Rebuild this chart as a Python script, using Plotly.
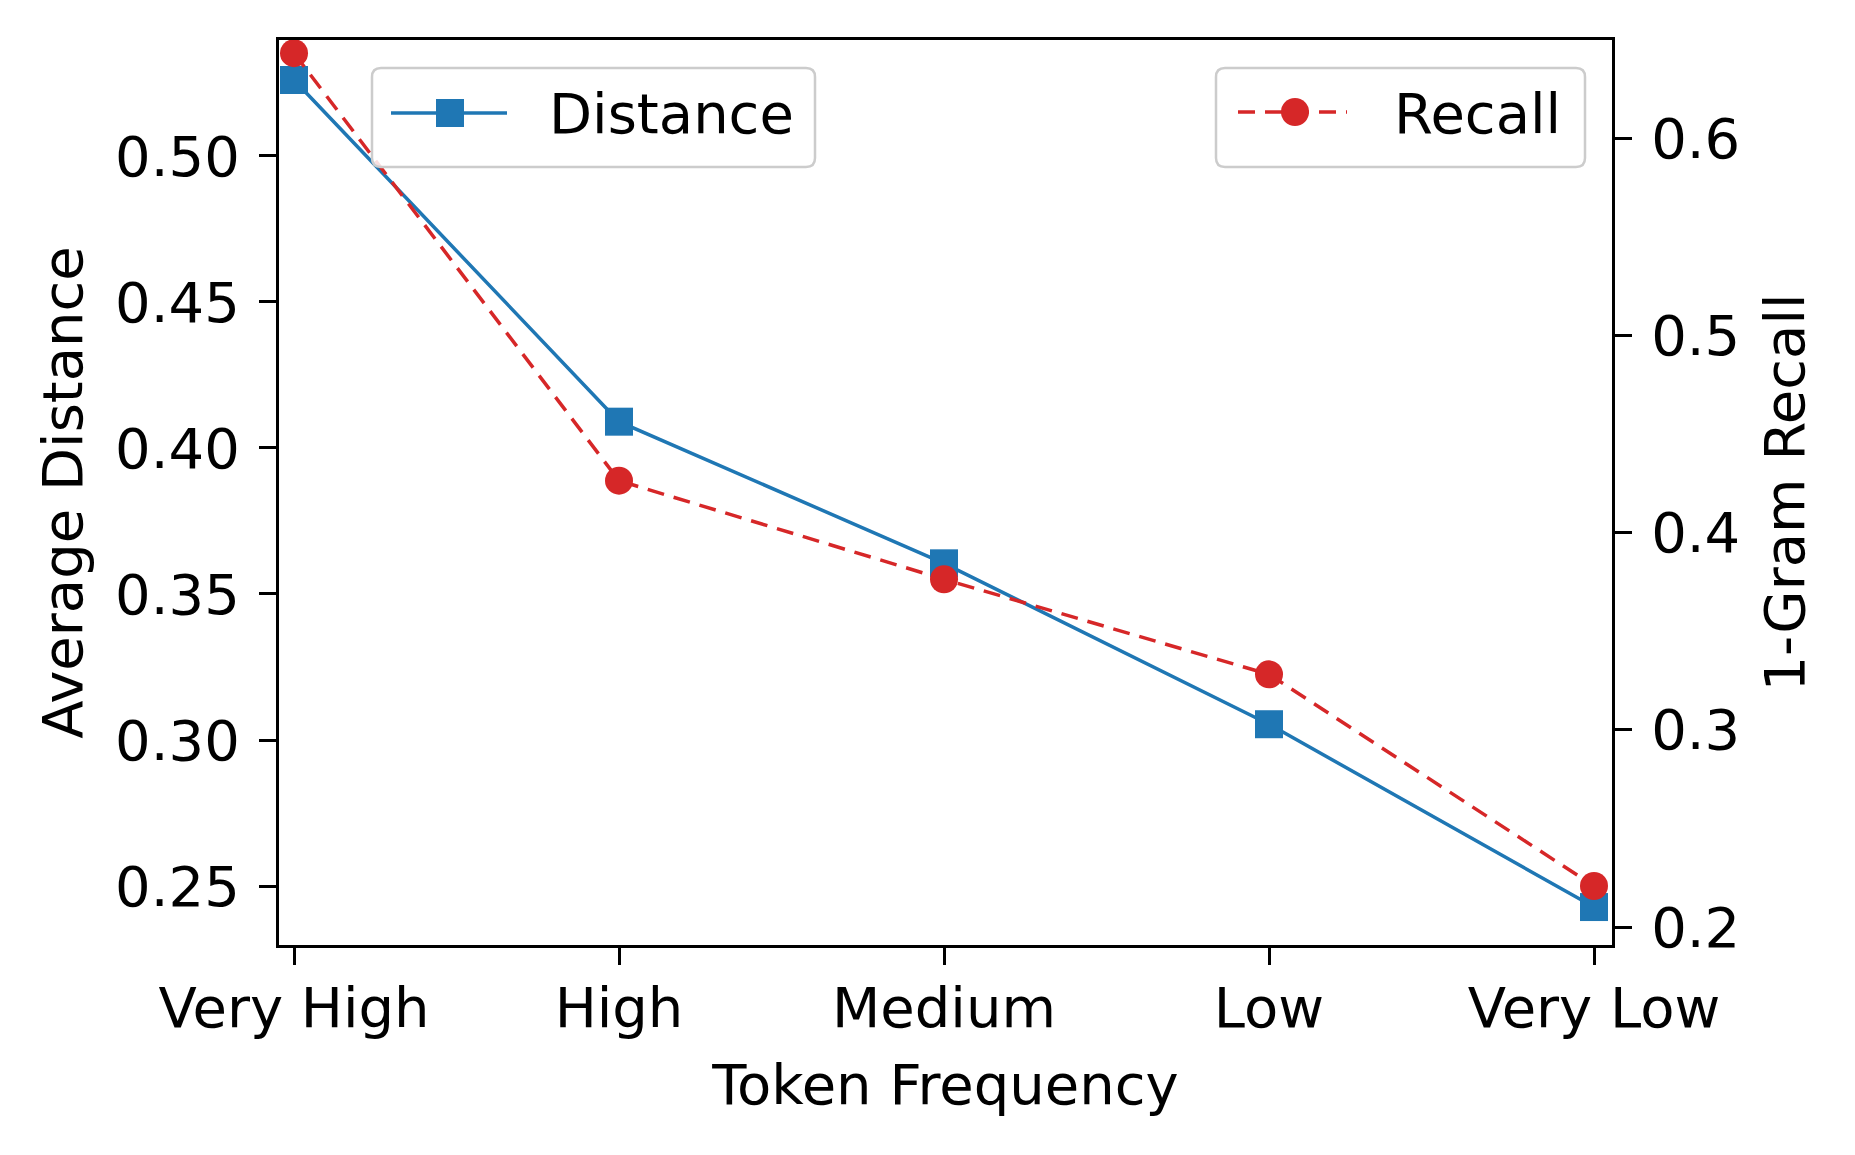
import plotly.graph_objects as go

categories = ["Very High", "High", "Medium", "Low", "Very Low"]
distance = [0.526, 0.409, 0.3605, 0.3054, 0.2428]
recall = [0.643, 0.4263, 0.3763, 0.3281, 0.2208]
left_ticks = [0.25, 0.30, 0.35, 0.40, 0.45, 0.50]
right_ticks = [0.2, 0.3, 0.4, 0.5, 0.6]

BLUE = "#1f77b4"
RED = "#d62728"
FONT = "DejaVu Sans"
FS = 56

# page body has an 8px margin; work in figure pixel coordinates
OFF = 8
W, H = 1855 - OFF, 1155 - OFF
L, R, T, B = 279 - OFF, 1612 - OFF, 40 - OFF, 945 - OFF

fig = go.Figure()
fig.add_trace(go.Scatter(
    x=categories, y=distance, name="Distance", mode="lines+markers",
    line=dict(color=BLUE, width=3.5),
    marker=dict(symbol="square", size=28, color=BLUE),
    showlegend=False, yaxis="y"))
fig.add_trace(go.Scatter(
    x=categories, y=recall, name="Recall", mode="lines+markers",
    line=dict(color=RED, width=3.5, dash="17px,10px"),
    marker=dict(symbol="circle", size=28, color=RED),
    showlegend=False, yaxis="y2"))

# helpers: convert reference page pixel coords to shape pixel offsets
def px(x):
    return (x - OFF) - L

def py(y):
    return B - (y - OFF)

def rrect(x0, y0, x1, y1, r):
    X0, X1 = px(x0), px(x1)
    Yt, Yb = py(y0), py(y1)
    return (f"M{X0+r},{Yb} L{X1-r},{Yb} Q{X1},{Yb} {X1},{Yb+r} "
            f"L{X1},{Yt-r} Q{X1},{Yt} {X1-r},{Yt} L{X0+r},{Yt} "
            f"Q{X0},{Yt} {X0},{Yt-r} L{X0},{Yb+r} Q{X0},{Yb} {X0+r},{Yb} Z")

pix = dict(xref="paper", yref="paper", xsizemode="pixel", ysizemode="pixel",
           xanchor=0, yanchor=0, layer="above")

shapes = []
for (x0, x1) in [(372, 815), (1216, 1585)]:
    shapes.append(dict(type="path", path=rrect(x0, 68, x1, 167, 9),
                       line=dict(color="#cccccc", width=2.5),
                       fillcolor="rgba(255,255,255,0.85)", **pix))
shapes.append(dict(type="line", x0=px(391), x1=px(507), y0=py(113), y1=py(113),
                   line=dict(color=BLUE, width=3.5), **pix))
shapes.append(dict(type="rect", x0=px(436), x1=px(464), y0=py(99), y1=py(127),
                   line=dict(color=BLUE, width=0), fillcolor=BLUE, **pix))
shapes.append(dict(type="line", x0=px(1238), x1=px(1347), y0=py(112), y1=py(112),
                   line=dict(color=RED, width=3.5, dash="17px,10px"), **pix))
shapes.append(dict(type="circle", x0=px(1281), x1=px(1309), y0=py(98), y1=py(126),
                   line=dict(color=RED, width=0), fillcolor=RED, **pix))

def fx(x):
    return ((x - OFF) - L) / (R - L)

def fy(y):
    return (B - (y - OFF)) / (B - T)

annotations = [
    dict(text="Distance", x=fx(547), y=fy(114), xref="paper", yref="paper",
         xanchor="left", yanchor="middle", showarrow=False,
         font=dict(family=FONT, size=FS, color="black")),
    dict(text="Recall", x=fx(1392), y=fy(114), xref="paper", yref="paper",
         xanchor="left", yanchor="middle", showarrow=False,
         font=dict(family=FONT, size=FS, color="black")),
]

axis_common = dict(showline=True, linecolor="black", linewidth=3,
                   ticks="outside", ticklen=17, tickwidth=3, tickcolor="black",
                   showgrid=False, zeroline=False,
                   tickfont=dict(family=FONT, size=FS, color="black"))

fig.update_layout(
    width=W, height=H,
    margin=dict(l=L, r=W - R, t=T, b=H - B, autoexpand=False),
    paper_bgcolor="white", plot_bgcolor="white",
    font=dict(family=FONT, size=FS, color="black"),
    xaxis=dict(type="category", range=[-0.0462, 4.0554], mirror=True,
               ticklabelstandoff=-5,
               title=dict(text="Token Frequency", font=dict(family=FONT, size=FS), standoff=26),
               automargin=False, **axis_common),
    yaxis=dict(range=[0.2298, 0.5397], tickvals=left_ticks, tickformat=".2f",
               ticklabelstandoff=8,
               title=dict(text="Average Distance", font=dict(family=FONT, size=FS), standoff=15),
               automargin=False, **axis_common),
    yaxis2=dict(range=[0.1909, 0.6497], tickvals=right_ticks, tickformat=".1f",
                overlaying="y", side="right", ticklabelstandoff=8,
                title=dict(text="1-Gram Recall", font=dict(family=FONT, size=FS), standoff=26),
                automargin=False, **axis_common),
    shapes=shapes, annotations=annotations, showlegend=False,
)

fig.write_html("out.html")
